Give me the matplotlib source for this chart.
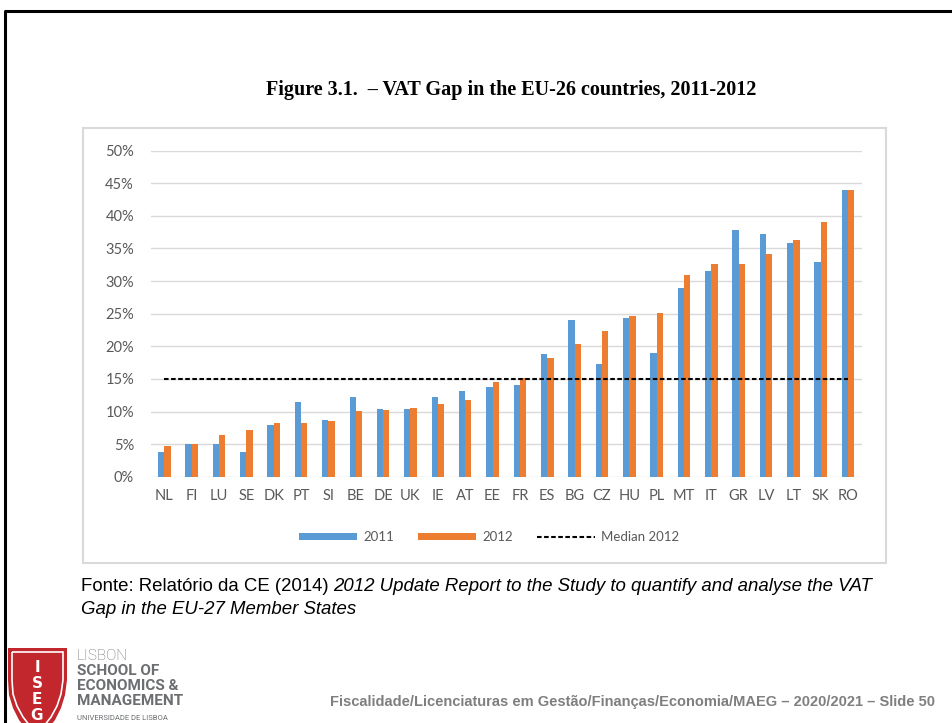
import numpy as np
import matplotlib
matplotlib.use("Agg")
import matplotlib.pyplot as plt
from matplotlib.patches import Rectangle, Polygon
from matplotlib.lines import Line2D

# VAT gap, % of theoretical VAT liability
countries = ["NL", "FI", "LU", "SE", "DK", "PT", "SI", "BE", "DE", "UK", "IE", "AT", "EE",
             "FR", "ES", "BG", "CZ", "HU", "PL", "MT", "IT", "GR", "LV", "LT", "SK", "RO"]
gap_2011 = [3.8, 5.0, 5.0, 3.8, 8.0, 11.4, 8.7, 12.3, 10.4, 10.4, 12.2, 13.2, 13.7,
            14.1, 18.8, 24.1, 17.3, 24.3, 19.0, 29.0, 31.5, 37.9, 37.2, 35.9, 32.9, 44.0]
gap_2012 = [4.7, 5.0, 6.4, 7.1, 8.2, 8.2, 8.6, 10.1, 10.2, 10.6, 11.1, 11.7, 14.5,
            15.2, 18.2, 20.4, 22.3, 24.7, 25.1, 31.0, 32.6, 32.6, 34.2, 36.3, 39.1, 44.0]
median_2012 = 15.0
yticks = [0, 5, 10, 15, 20, 25, 30, 35, 40, 45, 50]

W, H = 953, 723


def fx(x):
    return x / W


def fy(y):
    return 1 - y / H


fig = plt.figure(figsize=(9.53, 7.23), dpi=100)

ax = fig.add_axes([fx(150.7), fy(476.7), fx(861.7) - fx(150.7), fy(150.7) - fy(476.7)])
x = np.arange(len(countries))
w = 0.23
b1 = ax.bar(x - w / 2, gap_2011, w, color="#5B9BD5", label="2011", zorder=2)
b2 = ax.bar(x + w / 2, gap_2012, w, color="#ED7D31", label="2012", zorder=2)
med, = ax.plot([x[0], x[-1]], [median_2012, median_2012], color="black", lw=1.5,
               ls=(0, (2.2, 1.2)), label="Median 2012", zorder=3)

ax.set_xlim(-0.5, len(countries) - 0.5)
ax.set_ylim(0, 50)
ax.set_yticks(yticks)
ax.set_yticklabels([f"{v}%" for v in yticks])
ax.set_xticks(x)
ax.set_xticklabels(countries)
ax.yaxis.grid(True, color="#D9D9D9", lw=1)
ax.set_axisbelow(True)
for s in ax.spines.values():
    s.set_visible(False)
ax.tick_params(length=0, labelsize=10.5, labelcolor="#595959")
ax.tick_params(axis="x", pad=9)
ax.tick_params(axis="y", pad=12)
for lab in ax.get_xticklabels() + ax.get_yticklabels():
    lab.set_family("Lato")

fig.legend([b1, b2, med], ["2011", "2012", "Median 2012"], loc="center",
           bbox_to_anchor=(fx(489), fy(537)), ncol=3,
           frameon=False, handlelength=4.4, handleheight=0.5,
           columnspacing=1.8, handletextpad=0.5, labelcolor="#595959",
           prop={"family": "Lato", "size": 9.5})

# chart frame and slide border
fig.add_artist(Rectangle((fx(82.7), fy(562.7)), fx(885.7) - fx(82.7), fy(128) - fy(562.7),
                         transform=fig.transFigure, fill=False, ec="#D9D9D9", lw=1.5))
fig.add_artist(Line2D([fx(5.5), fx(5.5), fx(953)], [fy(723), fy(10.5), fy(10.5)],
                      transform=fig.transFigure, color="black", lw=2.2))

fig.text(fx(511), fy(90), "Figure 3.1.  \u2013 VAT Gap in the EU-26 countries, 2011-2012",
         ha="center", va="center", family="Liberation Serif", weight="bold", fontsize=14.5)

# source note (mixed roman / italic)
fs_note = 13.4
t1 = fig.text(fx(81), fy(591), "Fonte: Relatório da CE (2014)", family="Liberation Sans",
              fontsize=fs_note, va="baseline")
r = fig.canvas.get_renderer()
bb = t1.get_window_extent(r)
fig.text((bb.x1 + 4) / fig.bbox.width, fy(591),
         "2012 Update Report to the Study to quantify and analyse the VAT",
         family="Liberation Sans", style="italic", fontsize=fs_note, va="baseline")
fig.text(fx(81), fy(614), "Gap in the EU-27 Member States", family="Liberation Sans",
         style="italic", fontsize=fs_note, va="baseline")

fig.text(fx(935), fy(702),
         "Fiscalidade/Licenciaturas em Gestão/Finanças/Economia/MAEG \u2013 2020/2021 \u2013 Slide 50",
         ha="right", va="center", family="Liberation Sans", weight="bold", fontsize=10.5,
         color="#7F7F7F")

# ISEG logo
shield = [(8, 648), (67, 648), (67, 680), (65, 695), (61, 708), (55, 720), (47, 730),
          (37, 736), (27, 730), (19, 720), (13, 708), (9, 695), (8, 680)]
inner = [(12, 652), (63, 652), (63, 680), (61, 694), (57, 706), (51, 717), (44, 726),
         (37, 731), (30, 726), (23, 717), (17, 706), (13, 694), (12, 680)]
fig.add_artist(Polygon([(fx(a), fy(b)) for a, b in shield], closed=True,
                       transform=fig.transFigure, fc="#C1272D", ec="none"))
fig.add_artist(Polygon([(fx(a), fy(b)) for a, b in inner], closed=True,
                       transform=fig.transFigure, fill=False, ec="white", lw=1.2))
for ch, yy in zip("ISEG", [667, 683, 699, 715]):
    fig.text(fx(37), fy(yy), ch, ha="center", va="center", color="white",
             weight="bold", fontsize=11, family="DejaVu Sans")

logo_col = "#6D6E71"
fig.text(fx(77), fy(656), "LISBON", family="Roboto", weight="light", fontsize=11,
         color=logo_col, va="center")
for line, yy in zip(["SCHOOL OF", "ECONOMICS &", "MANAGEMENT"], [671, 686, 701]):
    fig.text(fx(77), fy(yy), line, family="Roboto", weight="bold", fontsize=11,
             color=logo_col, va="center")
fig.text(fx(77), fy(718), "UNIVERSIDADE DE LISBOA", family="Roboto", fontsize=5.5,
         color=logo_col, va="center")

fig.savefig("out.png", dpi=100)
